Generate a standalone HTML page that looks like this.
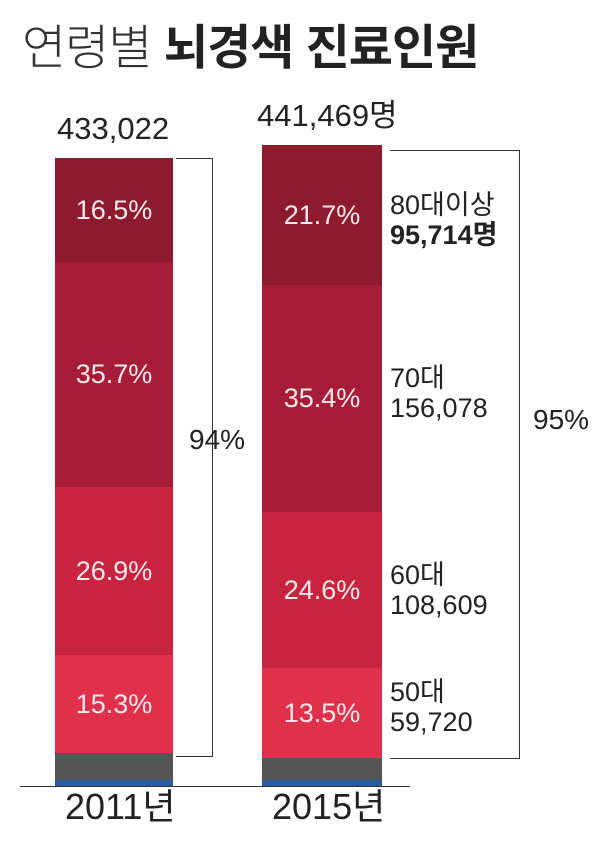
<!DOCTYPE html>
<html><head><meta charset="utf-8"><style>
body{margin:0;width:600px;height:847px;background:#fff;position:relative;overflow:hidden;font-family:"Liberation Sans","Noto Sans CJK KR",sans-serif;color:#222}
div{position:absolute}
.s{color:#fbe9ec;font-size:27px;text-align:center;display:flex;align-items:center;justify-content:center}
.t{font-size:27px;line-height:30px;white-space:nowrap;color:#222}
</style></head><body>
<div style="left:22px;top:8px;font-size:48px;white-space:nowrap;letter-spacing:-1px"><span style="font-weight:300;color:#333">연령별</span> <b>뇌경색 진료인원</b></div>
<div class="t" style="left:57px;top:112px;font-size:31px;line-height:34px">433,022</div>
<div class="t" style="left:257px;top:99px;font-size:31px;line-height:34px">441,469명</div>

<div class="s" style="left:55px;top:158px;width:118px;height:104px;background:#8e1a2e">16.5%</div>
<div class="s" style="left:55px;top:262px;width:118px;height:225px;background:#a71c36">35.7%</div>
<div class="s" style="left:55px;top:487px;width:118px;height:168px;background:#c8243f">26.9%</div>
<div class="s" style="left:55px;top:655px;width:118px;height:98px;background:#e0304c">15.3%</div>
<div style="left:55px;top:753px;width:118px;height:27px;background:#555"></div>
<div style="left:55px;top:780px;width:118px;height:6px;background:#2c5aa0"></div>

<div class="s" style="left:262px;top:145px;width:120px;height:140px;background:#8e1a2e">21.7%</div>
<div class="s" style="left:262px;top:285px;width:120px;height:227px;background:#a71c36">35.4%</div>
<div class="s" style="left:262px;top:512px;width:120px;height:156px;background:#c8243f">24.6%</div>
<div class="s" style="left:262px;top:668px;width:120px;height:90px;background:#e0304c">13.5%</div>
<div style="left:262px;top:758px;width:120px;height:22px;background:#555"></div>
<div style="left:262px;top:780px;width:120px;height:6px;background:#2c5aa0"></div>

<div style="left:20px;top:786px;width:390px;height:1px;background:#333"></div>

<div style="left:176px;top:158px;width:36px;height:597px;border:1.5px solid #333;border-left:none"></div>
<div class="t" style="left:189px;top:425px;font-size:28px">94%</div>
<div style="left:390px;top:150px;width:129px;height:607px;border:1.5px solid #333;border-left:none"></div>
<div class="t" style="left:533px;top:405px;font-size:28px">95%</div>

<div class="t" style="left:390px;top:190px">80대이상<br><b>95,714명</b></div>
<div class="t" style="left:390px;top:363px">70대<br>156,078</div>
<div class="t" style="left:390px;top:560px">60대<br>108,609</div>
<div class="t" style="left:390px;top:677px">50대<br>59,720</div>

<div class="t" style="left:65px;top:787px;font-size:36px;line-height:40px">2011년</div>
<div class="t" style="left:272px;top:787px;font-size:36px;line-height:40px">2015년</div>
</body></html>
